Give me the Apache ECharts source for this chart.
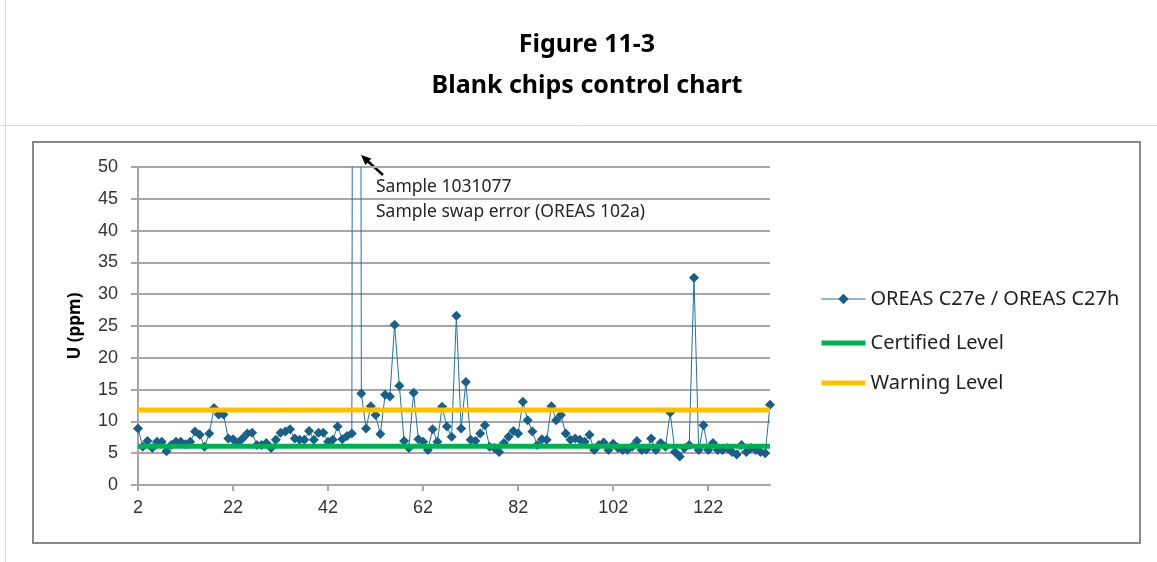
<!DOCTYPE html>
<html>
<head>
<meta charset="utf-8">
<script src="https://cdn.jsdelivr.net/npm/echarts@6/dist/echarts.min.js"></script>
<style>
html,body{margin:0;padding:0;background:#fff;}
#chart{width:1157px;height:562px;}
</style>
</head>
<body>
<div id="chart"></div>
<script>
// Sample numbers (category axis), first = 2
const categories = [];
for (let k = 2; k <= 135; k++) categories.push(String(k));

// U (ppm) values for OREAS C27e / OREAS C27h
const uValues = [
  8.9, 6.0, 6.9, 5.8, 6.8, 6.8, 5.3, 6.3, 6.8, 6.8,
  6.4, 6.8, 8.4, 7.9, 6.0, 8.1, 12.1, 11.1, 11.1, 7.3,
  7.2, 6.6, 7.3, 8.1, 8.2, 6.3, 6.3, 6.6, 5.8, 7.1,
  8.2, 8.4, 8.75, 7.3, 7.1, 7.1, 8.5, 7.1, 8.2, 8.2,
  6.8, 7.1, 9.2, 7.2, 7.7, 8.1, 500, 14.4, 8.9, 12.4,
  11.0, 8.0, 14.2, 13.9, 25.2, 15.6, 6.9, 5.8, 14.5, 7.2,
  6.8, 5.5, 8.75, 6.8, 12.3, 9.2, 7.6, 26.6, 8.9, 16.2,
  7.1, 6.9, 8.1, 9.4, 6.0, 5.8, 5.2, 6.6, 7.6, 8.5,
  8.1, 13.1, 10.2, 8.4, 6.3, 7.2, 7.1, 12.4, 10.2, 11.0,
  8.1, 7.1, 7.3, 7.1, 6.8, 7.9, 5.5, 6.3, 6.7, 5.5,
  6.5, 5.8, 5.5, 5.5, 6.0, 6.9, 5.5, 5.6, 7.3, 5.5,
  6.6, 6.0, 11.4, 5.2, 4.5, 5.8, 6.3, 32.6, 5.5, 9.4,
  5.5, 6.6, 5.5, 5.5, 5.8, 5.2, 4.8, 6.3, 5.2, 5.8,
  5.5, 5.2, 5.0, 12.6
];

const certifiedLevel = 6.1;
const warningLevel = 11.8;
const certifiedValues = categories.map(() => certifiedLevel);
const warningValues = categories.map(() => warningLevel);

const yTicks = { min: 0, max: 50, interval: 5 };

const chart = echarts.init(document.getElementById('chart'), null, { renderer: 'canvas' });

const gridColor = '#a6a6a6';
const tickFont = 'Liberation Sans, Arial, sans-serif';
const textFont = 'Noto Sans, Open Sans, sans-serif';

const legendText = { fontFamily: textFont, fontSize: 20, color: '#1f1f1f' };

const option = {
  animation: false,
  backgroundColor: '#ffffff',
  grid: { left: 138, right: 387, top: 167, bottom: 77, containLabel: false },
  legend: [
    { data: ['OREAS C27e / OREAS C27h'], orient: 'vertical', left: 821, top: 289, padding: 0,
      itemWidth: 44, itemHeight: 13, selectedMode: false,
      lineStyle: { width: 1 },
      textStyle: legendText },
    { data: ['Certified Level'], orient: 'vertical', left: 819, top: 333, padding: 0,
      itemWidth: 44, itemHeight: 13, selectedMode: false,
      lineStyle: { width: 5 }, itemStyle: { opacity: 0 },
      textStyle: legendText },
    { data: ['Warning Level'], orient: 'vertical', left: 819, top: 373, padding: 0,
      itemWidth: 44, itemHeight: 13, selectedMode: false,
      lineStyle: { width: 5 }, itemStyle: { opacity: 0 },
      textStyle: legendText }
  ],
  xAxis: {
    type: 'category',
    data: categories,
    boundaryGap: false,
    axisLine: { show: true, lineStyle: { color: gridColor, width: 2 } },
    axisTick: { show: true, interval: 19, length: 6, lineStyle: { color: gridColor, width: 2 } },
    axisLabel: { interval: 19, margin: 14, fontFamily: tickFont, fontSize: 18, color: '#333333' },
    splitLine: { show: false }
  },
  yAxis: {
    type: 'value',
    min: yTicks.min, max: yTicks.max, interval: yTicks.interval,
    name: 'U (ppm)',
    nameLocation: 'middle',
    nameRotate: 90,
    nameGap: 54,
    nameTextStyle: { fontFamily: textFont, fontWeight: 'bold', fontSize: 17, color: '#000' },
    axisLine: { show: true, lineStyle: { color: gridColor, width: 2 } },
    axisTick: { show: true, length: 7, lineStyle: { color: gridColor, width: 2 } },
    axisLabel: { margin: 20, fontFamily: tickFont, fontSize: 18, color: '#333333' },
    splitLine: { show: true, lineStyle: { color: gridColor, width: 2 } }
  },
  series: [
    {
      name: 'OREAS C27e / OREAS C27h',
      type: 'line',
      data: uValues,
      symbol: 'diamond',
      symbolSize: 10,
      showAllSymbol: true,
      clip: true,
      lineStyle: { color: '#2a6f99', width: 1 },
      itemStyle: { color: '#1b5f86' },
      z: 2
    },
    {
      name: 'Certified Level',
      type: 'line',
      data: certifiedValues,
      symbol: 'none',
      lineStyle: { color: '#00b050', width: 5 },
      itemStyle: { color: '#00b050' },
      z: 3
    },
    {
      name: 'Warning Level',
      type: 'line',
      data: warningValues,
      symbol: 'none',
      lineStyle: { color: '#ffc000', width: 5 },
      itemStyle: { color: '#ffc000' },
      z: 3
    }
  ],
  graphic: [
    { type: 'text', silent: true, x: 587, y: 45,
      style: { text: 'Figure 11-3', fontFamily: textFont, fontWeight: 'bold', fontSize: 25, fill: '#000',
               align: 'center', verticalAlign: 'middle' } },
    { type: 'text', silent: true, x: 587, y: 86,
      style: { text: 'Blank chips control chart', fontFamily: textFont, fontWeight: 'bold', fontSize: 25, fill: '#000',
               align: 'center', verticalAlign: 'middle' } },
    { type: 'line', silent: true, shape: { x1: 0, y1: 125.5, x2: 1157, y2: 125.5 },
      style: { stroke: '#d9d9d9', lineWidth: 1 } },
    { type: 'line', silent: true, shape: { x1: 5.5, y1: 0, x2: 5.5, y2: 562 },
      style: { stroke: '#d9d9d9', lineWidth: 1 } },
    { type: 'rect', silent: true, shape: { x: 33, y: 142, width: 1107, height: 401 },
      style: { fill: 'none', stroke: '#888888', lineWidth: 2 } },
    { type: 'text', silent: true, x: 376, y: 187,
      style: { text: 'Sample 1031077', fontFamily: textFont, fontSize: 17.5, fill: '#262626', verticalAlign: 'middle' } },
    { type: 'text', silent: true, x: 376, y: 212,
      style: { text: 'Sample swap error (OREAS 102a)', fontFamily: textFont, fontSize: 17.5, fill: '#262626', verticalAlign: 'middle' } },
    { type: 'line', silent: true, shape: { x1: 383, y1: 175, x2: 367, y2: 160.5 },
      style: { stroke: '#000', lineWidth: 2.5 } },
    { type: 'polygon', silent: true, shape: { points: [[361, 155], [371.4, 158.4], [365.4, 165]] },
      style: { fill: '#000' } }
  ]
};

chart.setOption(option);
</script>
</body>
</html>
